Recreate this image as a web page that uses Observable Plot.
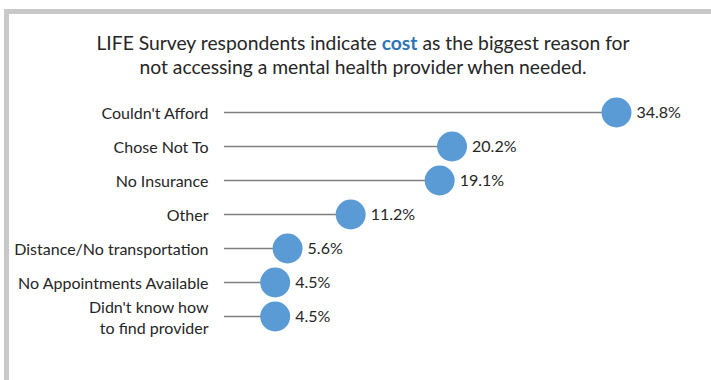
<!DOCTYPE html>
<html>
<head>
<meta charset="utf-8">
<script src="https://cdn.jsdelivr.net/npm/d3@7"></script>
<script src="https://cdn.jsdelivr.net/npm/@observablehq/plot@0.6"></script>
<style>
  html, body { margin: 0; padding: 0; background: #fff; }
  #wrap { position: relative; width: 711px; height: 380px; overflow: hidden; font-family: Lato, "Open Sans", sans-serif; }
  #frame { position: absolute; left: 4px; top: 9px; right: -10px; bottom: -10px; border-top: 5px solid #c8c8c8; border-left: 5px solid #c8c8c8; }
  #title { position: absolute; left: 0; width: 726px; top: 31px; text-align: center; font-size: 19.3px; line-height: 24px; color: #262626; }
  #title .hl { color: #2e75b6; font-weight: bold; }
  #chart { position: absolute; left: 0; top: 0; }
</style>
</head>
<body>
<div id="wrap">
  <div id="frame"></div>
  <div id="title">LIFE Survey respondents indicate <span class="hl">cost</span> as the biggest reason for<br>not accessing a mental health provider when needed.</div>
  <div id="chart"></div>
</div>
<script>
const categories = [
  "Couldn't Afford",
  "Chose Not To",
  "No Insurance",
  "Other",
  "Distance/No transportation",
  "No Appointments Available",
  "Didn't know how\nto find provider"
];
const values = [34.8, 20.2, 19.1, 11.2, 5.6, 4.5, 4.5];
const valueLabels = ["34.8%", "20.2%", "19.1%", "11.2%", "5.6%", "4.5%", "4.5%"];

const data = categories.map((c, i) => ({category: c, value: values[i], label: valueLabels[i]}));

const chart = Plot.plot({
  width: 711,
  height: 380,
  marginLeft: 224,
  marginRight: 95,
  marginTop: 112,
  marginBottom: 64,
  style: {background: "transparent", fontFamily: "Lato, 'Open Sans', sans-serif"},
  x: {domain: [0, 34.8], axis: null},
  y: {type: "point", domain: categories, padding: 0, axis: null},
  marks: [
    Plot.ruleY(data, {y: "category", x1: 0, x2: "value", stroke: "#7f7f7f", strokeWidth: 1.3}),
    Plot.dot(data, {y: "category", x: "value", r: 15, fill: "#5b9bd5", stroke: "none"}),
    Plot.text(data, {y: "category", x: 0, text: "category", textAnchor: "end", dx: -16, fontSize: 16, fill: "#262626", lineHeight: 1.3}),
    Plot.text(data, {y: "category", x: "value", text: "label", textAnchor: "start", dx: 20, fontSize: 16, fill: "#262626"})
  ]
});
document.getElementById("chart").appendChild(chart);
</script>
</body>
</html>
